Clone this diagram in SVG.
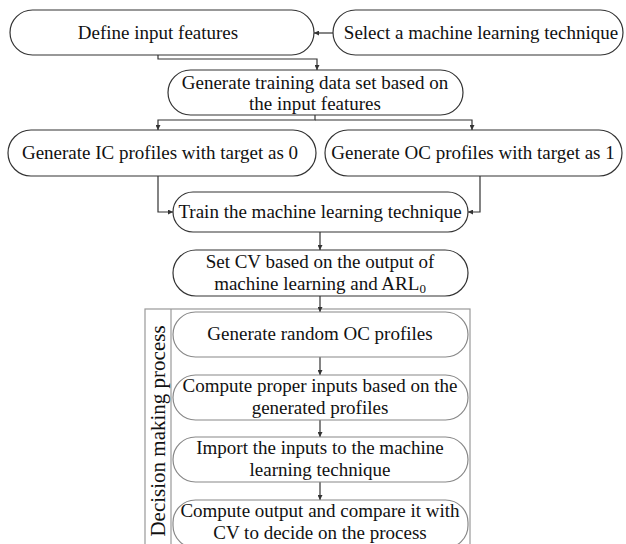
<svg xmlns="http://www.w3.org/2000/svg" width="626" height="544" viewBox="0 0 626 544">
<defs>
<style>
.n{fill:#fff;stroke:#333;stroke-width:1.2}
.m{fill:#fff;stroke:#888;stroke-width:1.2}
.t{font-family:"Liberation Serif","Times New Roman",serif;font-size:19px;fill:#111;text-anchor:middle}
.c{fill:none;stroke:#333;stroke-width:1.2}
</style>
<marker id="a" viewBox="0 0 6 6" refX="6" refY="3" markerWidth="5" markerHeight="5" orient="auto" markerUnits="userSpaceOnUse"><path d="M0,0 L6,3 L0,6 z" fill="#333"/></marker>
</defs>
<rect width="626" height="544" fill="#fff"/>
<g id="decision-frame">
<rect x="145" y="309" width="325" height="240" fill="none" stroke="#999" stroke-width="1.2"/>
<line x1="171" y1="309" x2="171" y2="544" stroke="#999" stroke-width="1.2"/>
<text class="t" transform="translate(165,431) rotate(-90)" style="font-size:21px">Decision making process</text>
</g>
<g id="connectors">
<path class="c" d="M333,33 H314" marker-end="url(#a)"/>
<path class="c" d="M158,55 V59 H317 V70" marker-end="url(#a)"/>
<path class="c" d="M315,115 V120 H158 V130" marker-end="url(#a)"/>
<path class="c" d="M315,120 H472 V130" marker-end="url(#a)"/>
<path class="c" d="M158,176 V212 H173" marker-end="url(#a)"/>
<path class="c" d="M480,176 V212 H468" marker-end="url(#a)"/>
<path class="c" d="M320,232 V250" marker-end="url(#a)"/>
<path class="c" d="M320,296 V312" marker-end="url(#a)"/>
<path class="c" d="M320,357 V375" marker-end="url(#a)"/>
<path class="c" d="M320,420 V437" marker-end="url(#a)"/>
<path class="c" d="M320,482 V500" marker-end="url(#a)"/>
</g>
<g id="define-input-features">
<rect class="n" x="10" y="10" width="304" height="45" rx="22.5"/>
<text class="t" x="158" y="39">Define input features</text>
</g>
<g id="select-technique">
<rect class="n" x="333" y="10" width="290" height="45" rx="22.5"/>
<text class="t" x="481" y="39">Select a machine learning technique</text>
</g>
<g id="generate-training-data">
<rect class="n" x="168" y="70" width="295" height="45" rx="22.5"/>
<text class="t" x="315" y="89">Generate training data set based on</text>
<text class="t" x="315" y="110">the input features</text>
</g>
<g id="generate-ic">
<rect class="n" x="8" y="130" width="308" height="46" rx="23"/>
<text class="t" x="160" y="159">Generate IC profiles with target as 0</text>
</g>
<g id="generate-oc">
<rect class="n" x="325" y="130" width="297" height="46" rx="23"/>
<text class="t" x="473" y="159">Generate OC profiles with target as 1</text>
</g>
<g id="train">
<rect class="n" x="173" y="192" width="295" height="40" rx="20"/>
<text class="t" x="320" y="218">Train the machine learning technique</text>
</g>
<g id="set-cv">
<rect class="n" x="173" y="250" width="295" height="46" rx="23"/>
<text class="t" x="320" y="268">Set CV based on the output of</text>
<text class="t" x="320" y="290">machine learning and ARL<tspan dy="3" style="font-size:13px">0</tspan></text>
</g>
<g id="generate-random-oc">
<rect class="m" x="173" y="312" width="295" height="45" rx="22.5"/>
<text class="t" x="320" y="340">Generate random OC profiles</text>
</g>
<g id="compute-inputs">
<rect class="m" x="173" y="375" width="295" height="45" rx="22.5"/>
<text class="t" x="320" y="392">Compute proper inputs based on the</text>
<text class="t" x="320" y="414">generated profiles</text>
</g>
<g id="import-inputs">
<rect class="m" x="173" y="437" width="295" height="45" rx="22.5"/>
<text class="t" x="320" y="454">Import the inputs to the machine</text>
<text class="t" x="320" y="476">learning technique</text>
</g>
<g id="compute-output">
<rect class="m" x="173" y="500" width="295" height="48" rx="22.5"/>
<text class="t" x="320" y="517">Compute output and compare it with</text>
<text class="t" x="320" y="539">CV to decide on the process</text>
</g>
</svg>
